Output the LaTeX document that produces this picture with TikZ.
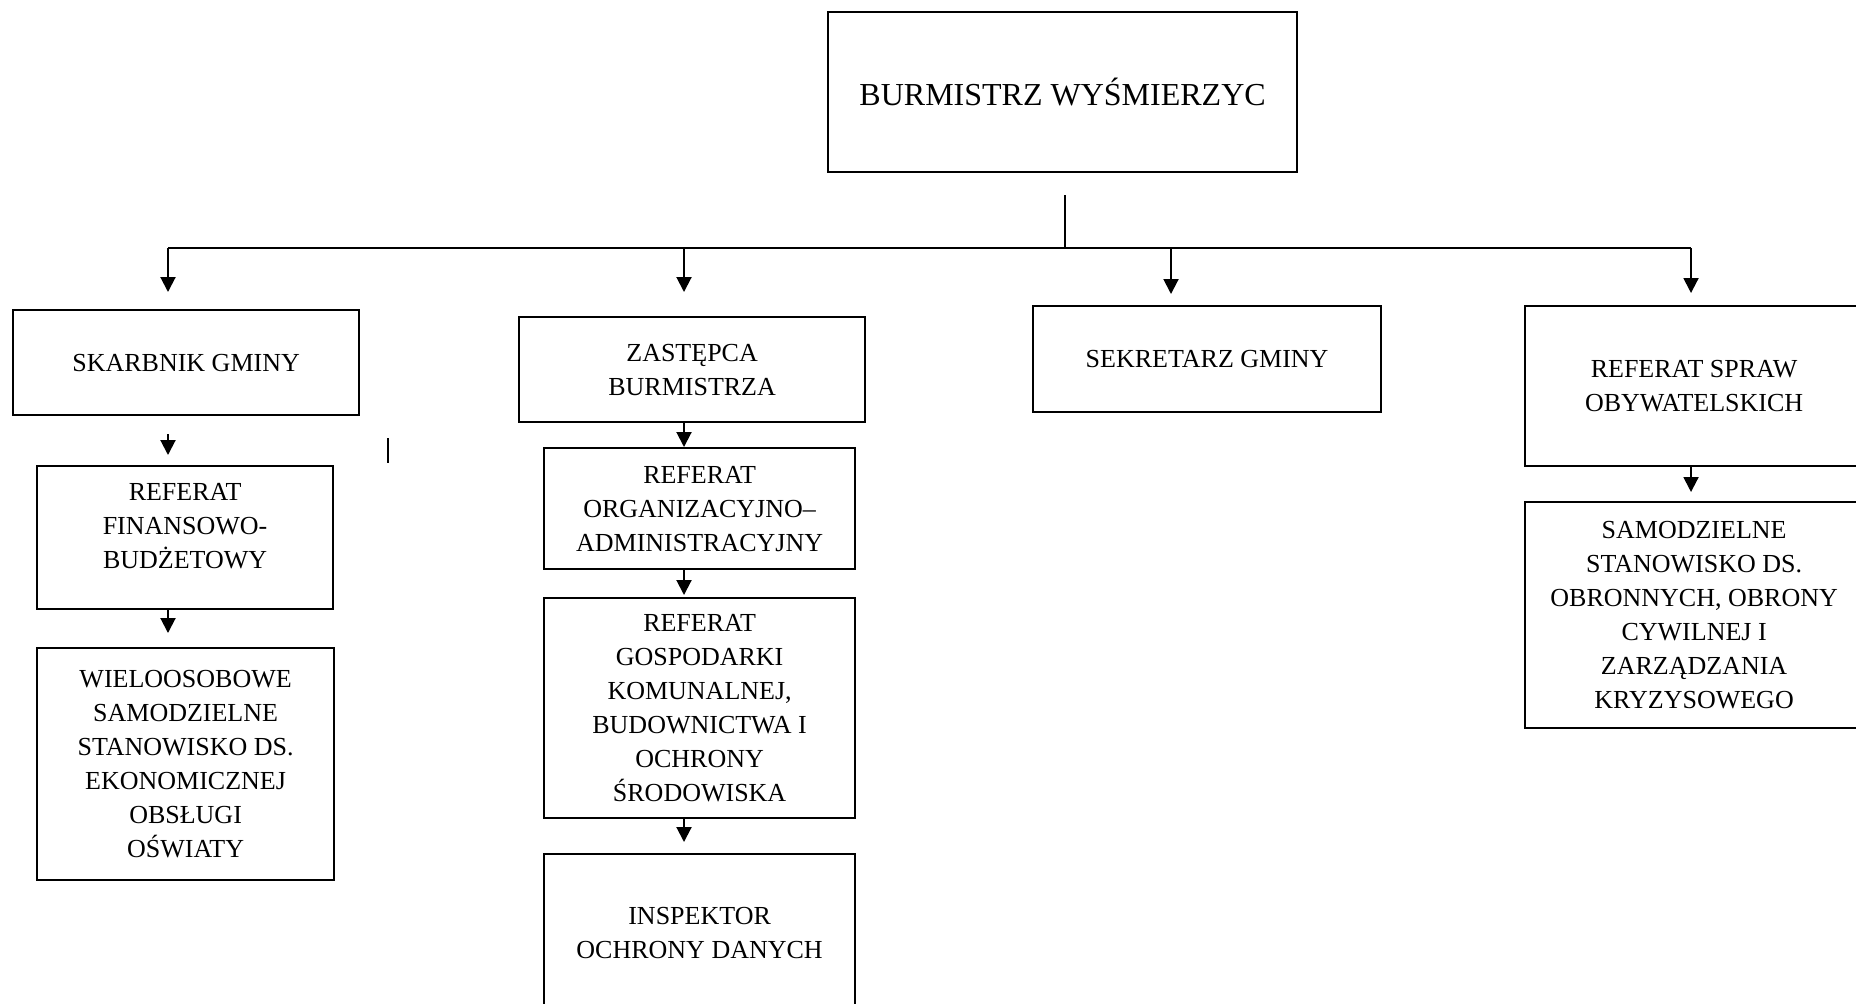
\documentclass[tikz,border=0pt]{standalone}
\usepackage{fontspec}
\setmainfont{Liberation Serif}
\usepackage{tikz}
\tikzset{
  unit_font/.style = {font=\fontsize{13}{17}\selectfont},
  head_font/.style = {font=\fontsize{16}{20}\selectfont},
  frame_line/.style = {draw, line width=1.1pt}
}
\tikzset{
  unit/.style = {unit_font, frame_line, align=center, inner sep=0, anchor=north west},
  head/.style = {unit, head_font},
  wide_unit/.style = {minimum width=173pt, minimum height=52.5pt},
  sub_unit/.style = {minimum width=155.5pt},
  link/.style = {line width=1pt, -{Triangle[length=7.5pt, width=7.5pt]}},
  trunk/.style = {line width=1pt}
}
\usetikzlibrary{positioning, arrows.meta, calc}

\begin{document}
\begin{tikzpicture}[x=0.5pt, y=-0.5pt]{
        \useasboundingbox (0,0) rectangle (1856,1003);
        \clip (0,0) rectangle (1856,1003);

        % Head
        \node[head, minimum width=234.5pt, minimum height=80pt] at (827,11) (burm) {
            BURMISTRZ WYŚMIERZYC};

        % First level
        \node[unit, wide_unit] at (12,309) (skarb) {
            SKARBNIK GMINY};
        \node[unit, wide_unit] at (518,316) (zast) {
            ZASTĘPCA\\ BURMISTRZA};
        \node[unit, minimum width=174pt, minimum height=53pt] at (1032,305) (sekr) {
            SEKRETARZ GMINY};
        \node[unit, minimum width=169pt, minimum height=80pt] at (1524,305) (spraw) {
            REFERAT SPRAW\\ OBYWATELSKICH};

        % Under the treasurer
        \node[unit, minimum width=148pt, minimum height=71.5pt] at (36,465) (fin) {
            REFERAT\\ FINANSOWO-\\ BUDŻETOWY\\[-5pt] \mbox{}};
        \node[unit, minimum width=148.5pt, minimum height=116pt] at (36,647) (wielo) {
            WIELOOSOBOWE\\ SAMODZIELNE\\ STANOWISKO DS.\\ EKONOMICZNEJ\\ OBSŁUGI\\ OŚWIATY};

        % Under the deputy
        \node[unit, sub_unit, minimum height=60.5pt] at (543,447) (org) {
            REFERAT\\ ORGANIZACYJNO--\\ ADMINISTRACYJNY};
        \node[unit, sub_unit, minimum height=110pt] at (543,597) (gosp) {
            REFERAT\\ GOSPODARKI\\ KOMUNALNEJ,\\ BUDOWNICTWA I\\ OCHRONY\\ ŚRODOWISKA};
        \node[unit, sub_unit, minimum height=78.5pt] at (543,853) (insp) {
            INSPEKTOR\\ OCHRONY DANYCH};

        % Under the citizens' affairs unit
        \node[unit, minimum width=169pt, minimum height=113pt] at (1524,501) (samod) {
            SAMODZIELNE\\ STANOWISKO DS.\\ OBRONNYCH, OBRONY\\ CYWILNEJ I\\ ZARZĄDZANIA\\ KRYZYSOWEGO};

        % Bus line
        \coordinate (bus_mid) at (1065,248);
        \coordinate (bus_l) at (168,248);
        \coordinate (bus_z) at (684,248);
        \coordinate (bus_s) at (1171,248);
        \coordinate (bus_r) at (1691,248);
        \coordinate (tick_top) at (388,438);
        \coordinate (tick_bot) at (388,463);

        % Arrows and lines
        \draw[trunk, shorten <=11pt] (bus_mid |- burm.south)--(bus_mid);
        \draw[trunk] (bus_l)--(bus_r);
        \draw[trunk] (tick_top)--(tick_bot);

        \draw[link, shorten >=8.5pt] (bus_l)--(bus_l |- skarb.north);
        \draw[link, shorten >=12pt] (bus_z)--(bus_z |- zast.north);
        \draw[link, shorten >=5.5pt] (bus_s)--(bus_s |- sekr.north);
        \draw[link, shorten >=6pt] (bus_r)--(bus_r |- spraw.north);

        \draw[link, shorten <=9pt, shorten >=5pt] (bus_l |- skarb.south)--(bus_l |- fin.north);
        \draw[link, shorten >=7pt] (bus_l |- fin.south)--(bus_l |- wielo.north);

        \draw[link] (bus_z |- zast.south)--(bus_z |- org.north);
        \draw[link, shorten >=1pt] (bus_z |- org.south)--(bus_z |- gosp.north);
        \draw[link, shorten >=5.5pt] (bus_z |- gosp.south)--(bus_z |- insp.north);

        \draw[link, shorten >=4.5pt] (bus_r |- spraw.south)--(bus_r |- samod.north);
        }
    \end{tikzpicture}
\end{document}
